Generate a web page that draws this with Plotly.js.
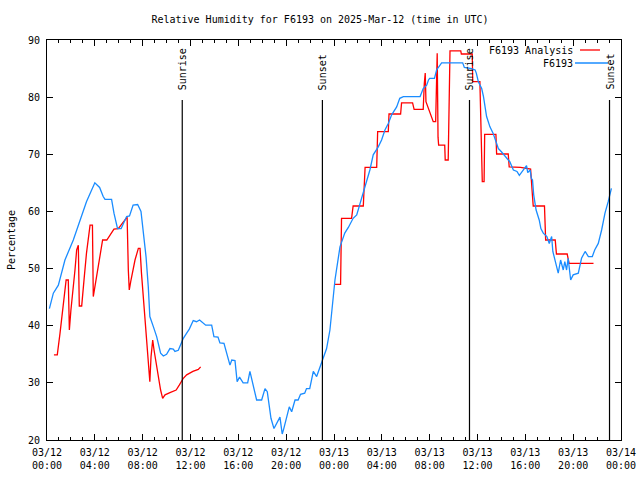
<!DOCTYPE html>
<html>
<head>
<meta charset="utf-8">
<script src="https://cdn.plot.ly/plotly-3.0.1.min.js"></script>
<style>html,body{margin:0;padding:0;background:#fff;}#chart{width:640px;height:480px;}</style>
</head>
<body>
<div id="chart"></div>
<script>
// Hours since 2025-03-12 00:00 UTC
const stationHours = [0.2,0.53,0.95,1.5,2.2,2.76,3.3,4.0,4.4,4.7,4.85,5.4,5.6,5.9,6.2,6.66,6.9,7.2,7.58,7.86,8.05,8.28,8.47,8.6,8.9,9.17,9.5,9.73,10.0,10.28,10.56,10.7,10.98,11.4,11.68,11.9,12.23,12.5,12.76,13.0,13.27,13.77,13.96,14.3,14.46,14.8,15.08,15.3,15.45,15.72,15.9,16.1,16.4,16.78,16.97,17.2,17.3,17.53,17.95,18.23,18.42,18.6,18.73,18.98,19.48,19.57,19.67,19.8,20.04,20.26,20.46,20.74,21.0,21.2,21.55,21.7,21.97,22.27,22.55,22.83,23.1,23.38,23.66,23.94,24.08,24.5,24.9,25.2,25.6,25.9,26.17,26.45,26.73,27.0,27.28,27.7,27.98,28.26,28.54,28.82,29.24,29.5,29.8,31.2,31.46,31.75,31.9,32.0,32.4,32.58,33.0,34.76,34.9,35.5,35.8,35.9,36.07,36.35,36.5,36.76,37.04,37.3,37.6,37.74,38.0,38.44,38.7,39.0,39.3,39.5,39.85,40.1,40.2,40.4,40.5,40.6,40.7,40.9,41.16,41.3,41.5,41.8,42.0,42.2,42.3,42.47,42.6,42.75,42.95,43.17,43.3,43.45,43.58,43.79,44.0,44.43,44.7,45.0,45.27,45.6,45.8,46.1,46.38,46.66,46.93,47.2];
const stationRH = [43.0,45.7,47.1,51.5,55,58.5,61.7,65.0,64.2,62.6,62.1,62.1,59.7,57.0,57.0,59.1,59.2,61.1,61.2,60,56.75,52.1,46.8,41.6,39.8,38.1,35.2,34.7,35.0,36.0,35.9,35.5,35.7,37.8,38.7,39.4,40.9,40.7,41,40.6,40.1,40.1,38.1,38,37,36.9,34.6,33.1,34.0,33.9,30.2,31,30,30,32,30,28.75,27,27,29,28.45,25.5,23.8,22,24,22.6,21.05,22,24.1,25.8,24.95,27,27,28,28.2,29,29,32,31.1,32.8,34.3,36,39.25,44.5,48,53.8,56.2,57.2,58.8,59.4,61.4,63.45,65.5,67.25,69.9,71.3,72.5,74.25,75.4,76.9,78.3,79.8,80.1,80.1,81.5,82.1,83.0,83.3,83.3,84.75,86,86,85.2,85,84.75,84.2,82.7,81.5,80.1,76.6,74.8,73.7,71.9,71,70.45,69.3,68.7,67.25,67.0,66.3,67.2,68.0,66.8,67.25,65.8,65.5,62.9,60.25,58.5,57,56.2,55.6,54.4,55.6,53,51.5,50,49.2,51.5,49.75,51.2,49.75,51.8,48,48.9,49.2,51.8,53,52.1,52.1,53.25,54.4,56.75,59.7,61.7,64.05];

const analysisHours = [0.58,0.86,1.09,1.37,1.6,1.78,1.87,2.0,2.2,2.34,2.48,2.62,2.7,2.9,3.12,3.3,3.6,3.8,3.87,4.15,4.43,4.65,5.0,5.6,5.96,6.38,6.7,6.8,6.88,7.0,7.36,7.64,7.78,7.9,8.1,8.33,8.5,8.6,8.7,8.84,8.95,9.1,9.3,9.5,9.67,9.87,10.28,10.8,11.06,11.4,11.68,12.2,12.65,12.85,null,24.0,24.55,24.63,25.47,25.6,26.45,26.6,27.57,27.65,28.54,28.6,29.57,29.65,30.57,30.7,31.46,31.55,31.63,31.69,32.0,32.3,32.5,32.63,32.7,32.75,33.26,33.3,33.55,33.6,33.7,34.6,34.65,35.56,35.6,36.2,36.3,36.4,36.55,36.6,37.54,37.6,38.57,38.65,39.6,40.44,40.6,40.66,41.6,41.7,42.5,42.6,43.5,43.66,45.7];
const analysisRH = [34.9,34.9,38.7,43.9,48,48,39.25,42.75,46.25,49.75,53.25,54.1,43.45,43.45,48.6,52.65,57.6,57.6,45.1,48.6,52.65,55,55,56.9,57,58.2,59,49.75,46.25,47.7,51.5,53.55,53.55,49.2,43.9,38.7,33.7,30.2,34.6,37.5,35.75,33.7,31.4,28.75,27.3,27.9,28.3,28.75,29.6,30.8,31.4,32,32.35,32.8,null,47.25,47.25,58.8,58.8,60.95,60.95,67.7,67.7,73.95,73.95,77.05,77.05,79.0,79.0,77.85,77.85,82.4,84.2,79.2,77.5,75.7,75.7,87.7,73,71.6,71.6,69,69,78.3,88.1,88.1,87.55,87.55,82.7,82.7,74.25,65.2,65.2,73.5,73.5,70.05,70.05,67.8,67.7,67.4,62.6,60.95,60.95,55,55,52.55,52.55,50.9,50.9];

const sunEventHours = [11.31, 23.03, 35.33, 47.04];
const sunEventLabels = ['Sunrise', 'Sunset', 'Sunrise', 'Sunset'];

const xTickHours = [0,4,8,12,16,20,24,28,32,36,40,44,48];
const xTickLabels = ['03/12<br>00:00','03/12<br>04:00','03/12<br>08:00','03/12<br>12:00','03/12<br>16:00','03/12<br>20:00','03/13<br>00:00','03/13<br>04:00','03/13<br>08:00','03/13<br>12:00','03/13<br>16:00','03/13<br>20:00','03/14<br>00:00'];

const seriesNames = ['F6193 Analysis', 'F6193'];
const seriesColors = ['#ff0000', '#1a8cff'];

const FONT = 'DejaVu Sans Mono, Liberation Mono, monospace';

const traces = [
  {x: analysisHours, y: analysisRH, mode: 'lines', name: seriesNames[0], connectgaps: false,
   line: {color: seriesColors[0], width: 1.3}},
  {x: stationHours, y: stationRH, mode: 'lines', name: seriesNames[1],
   line: {color: seriesColors[1], width: 1.3}}
];

const shapes = [];
const annotations = [];
sunEventHours.forEach((h, i) => {
  shapes.push({type: 'line', xref: 'x', yref: 'paper', x0: h, x1: h, y0: 0, y1: 0.85,
    line: {color: '#000', width: 1.2}});
  annotations.push({x: h, xref: 'x', y: 0.87, yref: 'paper', text: sunEventLabels[i],
    textangle: -90, showarrow: false, xanchor: 'center', yanchor: 'bottom',
    font: {family: FONT, size: 10, color: '#000'}});
});

// legend (gnuplot style: text then sample)
const legendRows = [0.975, 0.9425];
const legendSpans = [[0.9286, 0.9634], [0.9199, 0.9774]];
seriesNames.forEach((n, i) => {
  annotations.push({x: 0.9199, xref: 'paper', y: legendRows[i], yref: 'paper', text: n,
    showarrow: false, xanchor: 'right', yanchor: 'middle',
    font: {family: FONT, size: 10, color: '#000'}});
  shapes.push({type: 'line', xref: 'paper', yref: 'paper', x0: legendSpans[i][0], x1: legendSpans[i][1],
    y0: legendRows[i], y1: legendRows[i], line: {color: seriesColors[i], width: 1.3}});
});

const layout = {
  width: 640, height: 480,
  margin: {l: 47, r: 19, t: 40, b: 40},
  paper_bgcolor: '#fff', plot_bgcolor: '#fff',
  showlegend: false,
  title: {text: 'Relative Humidity for F6193 on 2025-Mar-12 (time in UTC)',
    font: {family: FONT, size: 10, color: '#000'}, x: 0.5, xanchor: 'center', y: 0.96, yanchor: 'middle'},
  font: {family: FONT, size: 10, color: '#000'},
  xaxis: {range: [0, 48], tickvals: xTickHours, ticktext: xTickLabels,
    showgrid: false, zeroline: false, showline: true, linecolor: '#000', linewidth: 1,
    mirror: 'allticks', ticks: 'inside', ticklen: 6, tickcolor: '#000', ticklabelstandoff: 3,
    minor: {dtick: 1, ticks: 'inside', ticklen: 3, tickcolor: '#000', showgrid: false},
    tickfont: {family: FONT, size: 10, color: '#000'}},
  yaxis: {range: [20, 90], dtick: 10, tick0: 20,
    title: {text: 'Percentage', font: {family: FONT, size: 10, color: '#000'}, standoff: 10},
    showgrid: false, zeroline: false, showline: true, linecolor: '#000', linewidth: 1,
    mirror: 'allticks', ticks: 'inside', ticklen: 6, tickcolor: '#000', ticklabelstandoff: 4,
    tickfont: {family: FONT, size: 10, color: '#000'}},
  shapes: shapes,
  annotations: annotations
};

Plotly.newPlot('chart', traces, layout, {staticPlot: true, displayModeBar: false});
</script>
</body>
</html>
